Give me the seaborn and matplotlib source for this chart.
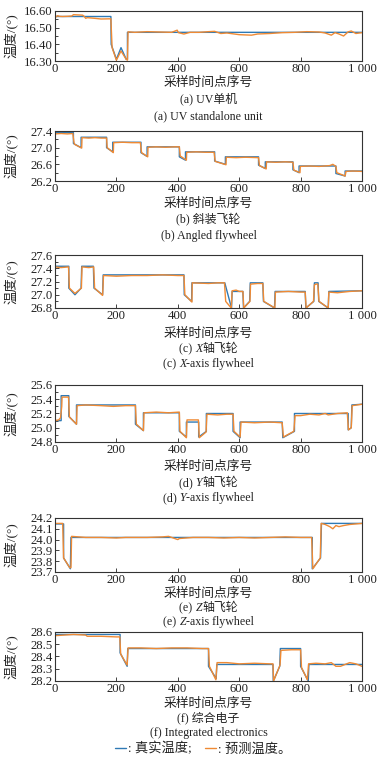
import matplotlib
matplotlib.use("Agg")
import matplotlib.pyplot as plt
from matplotlib.lines import Line2D
from matplotlib.ticker import FuncFormatter
from matplotlib.offsetbox import TextArea, HPacker, AnnotationBbox
import seaborn as sns

# ---- data (x = sample index, y = temperature) ----
# (a) UV standalone unit
ta_x = [0, 182, 183, 200, 215, 232, 236, 236, 1000]
ta_y = [16.567, 16.567, 16.40, 16.31, 16.38, 16.31, 16.31, 16.472, 16.472]
pa_x = [0, 8, 15, 25, 40, 55, 60, 90, 95, 100, 105, 130, 150, 175, 182, 186, 200, 215, 232, 236,
        238, 260, 300, 340, 380, 398, 402, 420, 440, 470, 500, 520, 540, 560, 600, 640, 660, 700,
        740, 780, 820, 860, 880, 900, 912, 925, 940, 955, 965, 980, 1000]
pa_y = [16.560, 16.572, 16.568, 16.567, 16.568, 16.570, 16.578, 16.575, 16.568, 16.556, 16.560,
        16.556, 16.552, 16.553, 16.553, 16.38, 16.305, 16.36, 16.31, 16.305, 16.475, 16.472,
        16.476, 16.474, 16.472, 16.485, 16.47, 16.462, 16.472, 16.472, 16.476, 16.478, 16.465,
        16.468, 16.458, 16.455, 16.462, 16.465, 16.470, 16.472, 16.476, 16.474, 16.468, 16.455,
        16.470, 16.462, 16.45, 16.475, 16.480, 16.465, 16.470]

# (b) Angled flywheel
tb_x = [0, 60, 60, 85, 85, 168, 168, 188, 188, 280, 280, 300, 300, 405, 405, 425, 425, 520, 520,
        555, 555, 663, 663, 685, 685, 775, 775, 795, 795, 915, 915, 945, 945, 1000]
tb_y = [27.36, 27.36, 27.10, 27.00, 27.25, 27.25, 27.00, 26.90, 27.13, 27.13, 26.88, 26.79, 27.02,
        27.02, 26.78, 26.70, 26.90, 26.90, 26.68, 26.60, 26.78, 26.78, 26.58, 26.50, 26.66, 26.66,
        26.47, 26.40, 26.56, 26.56, 26.38, 26.32, 26.44, 26.44]
pb_x = [0, 20, 40, 58, 62, 64, 87, 88, 110, 130, 150, 168, 170, 190, 191, 220, 250, 278, 282, 302,
        303, 330, 360, 390, 405, 408, 428, 429, 460, 490, 518, 522, 557, 558, 590, 620, 663, 666,
        688, 689, 720, 750, 775, 778, 798, 799, 830, 860, 895, 905, 915, 918, 945, 948, 970, 1000]
pb_y = [27.33, 27.34, 27.33, 27.34, 27.12, 27.08, 26.99, 27.24, 27.23, 27.24, 27.23, 27.23, 27.0,
        26.88, 27.12, 27.13, 27.12, 27.12, 26.88, 26.78, 27.01, 27.02, 27.01, 27.02, 27.02, 26.80,
        26.70, 26.89, 26.90, 26.89, 26.89, 26.67, 26.59, 26.77, 26.76, 26.77, 26.76, 26.57, 26.49,
        26.66, 26.65, 26.66, 26.65, 26.46, 26.40, 26.55, 26.56, 26.55, 26.57, 26.60, 26.55, 26.40,
        26.32, 26.43, 26.44, 26.43]

# (c) X-axis flywheel
tc_x = [0, 45, 45, 65, 85, 87, 125, 127, 155, 157, 420, 421, 445, 446, 553, 575, 577, 612, 614,
        634, 636, 677, 679, 715, 717, 815, 817, 843, 845, 857, 859, 890, 892, 1000]
tc_y = [27.43, 27.43, 27.10, 27.00, 27.10, 27.43, 27.43, 27.10, 27.00, 27.30, 27.30, 27.00, 26.90,
        27.18, 27.18, 26.80, 27.05, 27.05, 26.80, 26.90, 27.18, 27.18, 26.90, 26.80, 27.05, 27.05,
        26.80, 26.90, 27.18, 27.18, 26.90, 26.80, 27.05, 27.06]
pc_x = [0, 20, 44, 47, 65, 86, 88, 110, 126, 129, 155, 158, 200, 250, 300, 350, 400, 420, 423, 446,
        447, 500, 530, 552, 556, 574, 577, 590, 600, 612, 615, 635, 637, 660, 677, 680, 716, 718,
        760, 800, 815, 818, 842, 845, 850, 856, 860, 890, 892, 920, 960, 1000]
pc_y = [27.42, 27.41, 27.42, 27.10, 27.02, 27.10, 27.42, 27.41, 27.42, 27.10, 26.99, 27.29, 27.28,
        27.29, 27.29, 27.30, 27.29, 27.29, 27.00, 26.89, 27.18, 27.17, 27.18, 27.18, 26.90, 26.80,
        27.06, 27.07, 27.05, 27.05, 26.80, 26.90, 27.16, 27.17, 27.17, 26.90, 26.80, 27.04, 27.05,
        27.04, 27.04, 26.80, 26.90, 27.15, 27.16, 27.16, 26.90, 26.80, 27.04, 27.03, 27.05, 27.06]

# (d) Y-axis flywheel
td_x = [0, 20, 20, 45, 45, 70, 70, 262, 262, 288, 288, 405, 405, 428, 428, 468, 468, 493, 493, 580,
        580, 603, 603, 740, 742, 780, 780, 955, 955, 965, 967, 1000]
td_y = [25.10, 25.10, 25.45, 25.45, 25.16, 25.05, 25.32, 25.32, 25.05, 24.96, 25.21, 25.21, 24.95,
        24.87, 25.08, 25.08, 24.87, 24.95, 25.20, 25.20, 24.95, 24.86, 25.08, 25.08, 24.86, 24.95,
        25.20, 25.20, 24.97, 25.00, 25.32, 25.33]
pd_x = [0, 12, 18, 22, 23, 44, 47, 70, 72, 100, 150, 190, 230, 262, 265, 288, 290, 330, 370, 405,
        407, 428, 430, 467, 470, 492, 495, 530, 560, 580, 583, 603, 606, 650, 700, 740, 744, 778,
        782, 800, 830, 860, 880, 890, 920, 952, 956, 965, 968, 1000]
pd_y = [25.10, 25.11, 25.14, 25.30, 25.43, 25.43, 25.15, 25.05, 25.31, 25.32, 25.31, 25.30, 25.31,
        25.31, 25.05, 24.96, 25.21, 25.22, 25.21, 25.22, 24.95, 24.86, 25.11, 25.11, 24.86, 24.94,
        25.19, 25.18, 25.19, 25.19, 24.95, 24.87, 25.08, 25.07, 25.08, 25.07, 24.87, 24.95, 25.17,
        25.17, 25.19, 25.18, 25.20, 25.18, 25.20, 25.21, 24.97, 25.0, 25.31, 25.33]

# (e) Z-axis flywheel
te_x = [0, 28, 28, 50, 52, 838, 838, 865, 868, 1000]
te_y = [24.145, 24.145, 23.83, 23.73, 24.02, 24.02, 23.73, 23.83, 24.15, 24.15]
pe_x = [0, 25, 28, 48, 52, 54, 100, 150, 200, 230, 260, 300, 350, 370, 400, 405, 450, 500, 550,
        600, 650, 700, 750, 800, 836, 840, 864, 867, 880, 895, 905, 915, 925, 940, 960, 980, 1000]
pe_y = [24.15, 24.15, 23.83, 23.74, 23.74, 24.03, 24.02, 24.02, 24.015, 24.02, 24.02, 24.02,
        24.025, 24.03, 24.0, 24.01, 24.02, 24.02, 24.015, 24.02, 24.015, 24.02, 24.025, 24.02,
        24.02, 23.73, 23.83, 24.15, 24.14, 24.12, 24.10, 24.13, 24.12, 24.13, 24.14, 24.145, 24.15]

# (f) Integrated electronics
tf_x = [0, 212, 212, 235, 237, 500, 500, 525, 527, 710, 711, 732, 734, 800, 800, 825, 827, 1000]
tf_y = [28.58, 28.58, 28.43, 28.32, 28.465, 28.465, 28.32, 28.22, 28.335, 28.335, 28.20, 28.32,
        28.465, 28.465, 28.32, 28.20, 28.335, 28.335]
pf_x = [0, 30, 60, 100, 105, 150, 200, 211, 214, 235, 238, 280, 330, 380, 430, 480, 500, 503, 524,
        528, 560, 600, 650, 700, 710, 712, 733, 736, 770, 800, 803, 822, 826, 850, 880, 900, 915,
        930, 960, 980, 990, 1000]
pf_y = [28.57, 28.575, 28.58, 28.575, 28.565, 28.565, 28.56, 28.56, 28.42, 28.33, 28.47, 28.47,
        28.465, 28.47, 28.47, 28.465, 28.465, 28.32, 28.21, 28.35, 28.35, 28.34, 28.345, 28.34,
        28.34, 28.20, 28.33, 28.45, 28.455, 28.455, 28.31, 28.21, 28.34, 28.345, 28.34, 28.35,
        28.32, 28.32, 28.35, 28.34, 28.33, 28.32]

# subtitle pieces: odd-index pieces are italic
titles_cn = [["(a) UV单机"], ["(b) 斜装飞轮"], ["(c) ", "X", "轴飞轮"], ["(d) ", "Y", "轴飞轮"],
             ["(e) ", "Z", "轴飞轮"], ["(f) 综合电子"]]
titles_en = [["(a) UV standalone unit"], ["(b) Angled flywheel"], ["(c) ", "X", "-axis flywheel"],
             ["(d) ", "Y", "-axis flywheel"], ["(e) ", "Z", "-axis flywheel"],
             ["(f) Integrated electronics"]]
y_ticks = [[16.30, 16.40, 16.50, 16.60], [26.2, 26.6, 27.0, 27.4], [26.8, 27.0, 27.2, 27.4, 27.6],
           [24.8, 25.0, 25.2, 25.4, 25.6], [23.7, 23.8, 23.9, 24.0, 24.1, 24.2],
           [28.2, 28.3, 28.4, 28.5, 28.6]]
y_minor = [[16.35, 16.45, 16.55], [26.4, 26.8, 27.2], [26.9, 27.1, 27.3, 27.5],
           [24.9, 25.1, 25.3, 25.5], [], []]
y_fmt = ["%.2f", "%.1f", "%.1f", "%.1f", "%.1f", "%.1f"]
x_ticks = [0, 200, 400, 600, 800, 1000]
x_labels = ["0", "200", "400", "600", "800", "1 000"]

true_x = [ta_x, tb_x, tc_x, td_x, te_x, tf_x]
true_y = [ta_y, tb_y, tc_y, td_y, te_y, tf_y]
pred_x = [pa_x, pb_x, pc_x, pd_x, pe_x, pf_x]
pred_y = [pa_y, pb_y, pc_y, pd_y, pe_y, pf_y]

# layout in pixels: axes (top, bottom) and text rows
boxes = [(11, 61), (131, 181), (255, 308), (385, 442), (518, 572), (632, 681)]
xlab_y = [83, 204, 334, 467, 594, 704]
sub1_y = [99, 219, 349, 483, 608, 718]
sub2_y = [116, 236, 364, 498, 622, 733]

sns.set_style("ticks")
FONT = ["Liberation Serif", "Noto Sans CJK SC"]
plt.rcParams["font.family"] = FONT

W, H = 384, 764
fig = plt.figure(figsize=(W / 100, H / 100), dpi=100)
blue, orange = "#2f7ab5", "#ef8a34"
TXT = "#222222"
L, R = 55, 362


def fy(py):
    return 1 - py / H


def mixed_text(pieces, x, y, size):
    kids = []
    for k, s in enumerate(pieces):
        props = dict(fontsize=size, color=TXT, family=FONT)
        if k % 2 == 1:
            props["style"] = "italic"
        kids.append(TextArea(s, textprops=props))
    box = HPacker(children=kids, align="baseline", pad=0, sep=0)
    ab = AnnotationBbox(box, (x, y), xycoords="figure fraction", frameon=False,
                        box_alignment=(0.5, 0.5), pad=0)
    fig.add_artist(ab)


for i in range(6):
    top, bot = boxes[i]
    ax = fig.add_axes([L / W, fy(bot), (R - L) / W, (bot - top) / H])
    sns.lineplot(x=true_x[i], y=true_y[i], ax=ax, sort=False, estimator=None,
                 color=blue, lw=1.0)
    sns.lineplot(x=pred_x[i], y=pred_y[i], ax=ax, sort=False, estimator=None,
                 color=orange, lw=1.0)
    ax.set_xlim(0, 1000)
    ax.set_ylim(y_ticks[i][0], y_ticks[i][-1])
    ax.set_xticks(x_ticks)
    ax.set_xticklabels(x_labels)
    ax.set_yticks(y_ticks[i])
    ax.set_yticks(y_minor[i], minor=True)
    fmt = y_fmt[i]
    ax.yaxis.set_major_formatter(FuncFormatter(lambda v, p, f=fmt: f % v))
    ax.tick_params(axis="both", which="both", direction="in", labelsize=9.2, pad=1.5,
                   width=0.6, colors="#222222")
    ax.tick_params(which="major", length=3)
    ax.tick_params(which="minor", length=2.5)
    for s in ax.spines.values():
        s.set_linewidth(0.8)
        s.set_color("#333333")
    ax.set_xlabel("")
    ax.set_ylabel("")

    cx = (L + R) / 2 / W
    fig.text(cx, fy(xlab_y[i]), "采样时间点序号", ha="center", va="center", fontsize=9.2, color=TXT)
    mixed_text(titles_cn[i], cx, fy(sub1_y[i]), 8.6)
    mixed_text(titles_en[i], cx, fy(sub2_y[i]), 8.6)
    fig.text(12 / W, fy((top + bot) / 2), "温度/(°)", ha="center", va="center", rotation=90,
             fontsize=9.6, color=TXT)

handles = [Line2D([], [], color=blue, lw=1.0), Line2D([], [], color=orange, lw=1.0)]
fig.legend(handles, [": 真实温度;", ": 预测温度。"], loc="center",
           bbox_to_anchor=(203 / W, fy(749)),
           ncol=2, frameon=False, fontsize=9.5, handlelength=0.85, handletextpad=0.15,
           columnspacing=1.0, labelcolor=TXT, borderpad=0, borderaxespad=0)

fig.savefig("out.png", dpi=100)
